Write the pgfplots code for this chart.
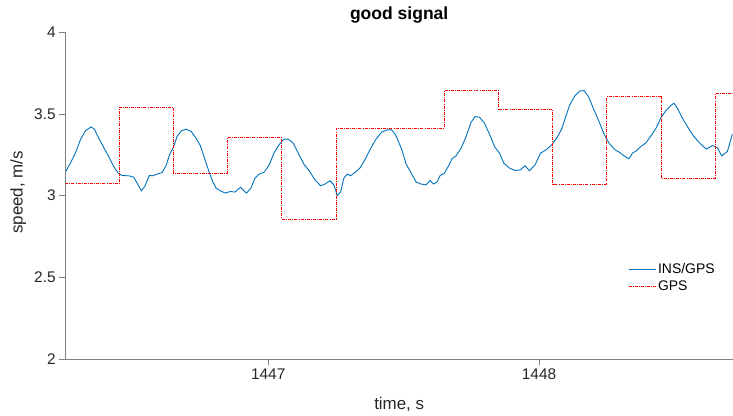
\documentclass[border=0pt]{standalone}
\usepackage{fontspec}
\setmainfont{Liberation Sans}
\usepackage{pgfplots}
\pgfplotsset{compat=1.18}
\definecolor{mblue}{rgb}{0,0.447,0.741}
\definecolor{axgray}{rgb}{0.5,0.5,0.5}
\definecolor{txtgray}{rgb}{0.15,0.15,0.15}
\begin{document}
\begin{tikzpicture}
\begin{axis}[
  name=ax,
  scale only axis,
  width=667.3bp, height=326.7bp,
  xmin=1446.252, xmax=1448.715,
  ymin=2, ymax=4,
  axis x line*=bottom, axis y line*=left,
  axis line style={axgray, line width=0.6bp},
  every tick/.style={axgray, line width=0.6bp},
  tick align=outside,
  major tick length=6.5bp,
  xtick={1447,1448},
  ytick={2,2.5,3,3.5,4},
  /pgf/number format/assume math mode=true,
  xticklabel style={/pgf/number format/1000 sep={}, font=\fontsize{15.5}{18}\selectfont, text=txtgray},
  yticklabel style={/pgf/number format/fixed, font=\fontsize{15.5}{18}\selectfont, text=txtgray},
  title={good signal},
  title style={at={(0.5,1)}, anchor=base, yshift=6.6bp, font=\bfseries\fontsize{17.6}{20}\selectfont, text=black},
  xlabel={time, s},
  xlabel style={at={(axis description cs:0.5,0)}, anchor=base, yshift=-51bp, font=\fontsize{17}{20}\selectfont, text=txtgray},
  ylabel={speed, m/s},
  ylabel style={at={(axis description cs:-0.0644,0.51)}, anchor=base, font=\fontsize{17}{20}\selectfont, text=txtgray},
  legend style={draw=none, fill=none, at={(axis description cs:0.843,0.248)}, anchor=west,
    font=\fontsize{14}{16}\selectfont, text=black, row sep=1.5bp, inner sep=0bp},
  legend cell align=left,
  legend image code/.code={\draw[#1] (0bp,0bp) -- (27bp,0bp);},
]
\addplot[mblue, line width=0.9bp] coordinates {
(1446.2509,3.1437) (1446.2694,3.1988) (1446.2904,3.2697) (1446.3063,3.3413) (1446.3247,3.3963)
(1446.3458,3.4208) (1446.3579,3.4067) (1446.3742,3.3517) (1446.3926,3.2942) (1446.4111,3.2391)
(1446.4295,3.1780) (1446.4454,3.1376) (1446.4601,3.1229) (1446.4849,3.1211) (1446.5033,3.1131)
(1446.5155,3.0765) (1446.5314,3.0294) (1446.5439,3.0557) (1446.5609,3.1229) (1446.5734,3.1211)
(1446.5893,3.1315) (1446.6077,3.1413) (1446.6225,3.1823) (1446.6347,3.2453) (1446.6509,3.3003)
(1446.6631,3.3615) (1446.6790,3.3963) (1446.6974,3.4067) (1446.7159,3.3920) (1446.7332,3.3517)
(1446.7491,3.3064) (1446.7653,3.2251) (1446.7801,3.1517) (1446.7948,3.0862) (1446.8070,3.0459)
(1446.8229,3.0294) (1446.8413,3.0153) (1446.8598,3.0251) (1446.8771,3.0214) (1446.8974,3.0508)
(1446.9196,3.0153) (1446.9362,3.0459) (1446.9509,3.1070) (1446.9668,3.1315) (1446.9852,3.1437)
(1447.0037,3.1884) (1447.0210,3.2599) (1447.0395,3.3107) (1447.0579,3.3456) (1447.0738,3.3456)
(1447.0923,3.3211) (1447.1107,3.2599) (1447.1317,3.1927) (1447.1513,3.1517) (1447.1723,3.0966)
(1447.1934,3.0599) (1447.2092,3.0703) (1447.2277,3.0905) (1447.2424,3.0661) (1447.2546,3.0006)
(1447.2672,3.0214) (1447.2793,3.1070) (1447.2915,3.1315) (1447.3041,3.1211) (1447.3199,3.1413)
(1447.3384,3.1682) (1447.3568,3.2190) (1447.3753,3.2801) (1447.3963,3.3413) (1447.4185,3.3884)
(1447.4391,3.4024) (1447.4554,3.4024) (1447.4701,3.3719) (1447.4860,3.3107) (1447.4934,3.2801)
(1447.5092,3.1927) (1447.5277,3.1376) (1447.5461,3.0826) (1447.5646,3.0703) (1447.5830,3.0661)
(1447.5978,3.0924) (1447.6103,3.0703) (1447.6225,3.0826) (1447.6347,3.1229) (1447.6509,3.1376)
(1447.6694,3.1927) (1447.6779,3.2251) (1447.6937,3.2434) (1447.7122,3.2905) (1447.7306,3.3615)
(1447.7491,3.4495) (1447.7638,3.4838) (1447.7801,3.4801) (1447.7985,3.4434) (1447.8192,3.3676)
(1447.8354,3.3003) (1447.8539,3.2599) (1447.8697,3.1988) (1447.8908,3.1682) (1447.9114,3.1535)
(1447.9314,3.1578) (1447.9483,3.1823) (1447.9646,3.1517) (1447.9852,3.1884) (1448.0052,3.2599)
(1448.0258,3.2801) (1448.0469,3.3107) (1448.0664,3.3554) (1448.0838,3.4086) (1448.0985,3.4838)
(1448.1133,3.5554) (1448.1328,3.6122) (1448.1502,3.6410) (1448.1661,3.6428) (1448.1823,3.6061)
(1448.2029,3.5248) (1448.2214,3.4532) (1448.2399,3.3761) (1448.2583,3.3211) (1448.2804,3.2801)
(1448.2978,3.2636) (1448.3137,3.2434) (1448.3321,3.2251) (1448.3446,3.2599) (1448.3594,3.2740)
(1448.3753,3.3003) (1448.3937,3.3211) (1448.4159,3.3719) (1448.4332,3.4165) (1448.4491,3.4740)
(1448.4675,3.5187) (1448.4860,3.5511) (1448.4982,3.5657) (1448.5107,3.5352) (1448.5292,3.4740)
(1448.5513,3.4128) (1448.5720,3.3615) (1448.5967,3.3150) (1448.6177,3.2844) (1448.6398,3.3064)
(1448.6583,3.2942) (1448.6742,3.2434) (1448.6952,3.2697) (1448.7137,3.3761)
};
\addlegendentry{INS/GPS}
\addplot[red, line width=0.7bp, const plot, dash pattern=on 3bp off 1.2bp on 0.8bp off 1.2bp] coordinates {
(1446.25,3.072) (1446.45,3.541) (1446.65,3.138) (1446.85,3.358) (1447.05,2.856)
(1447.25,3.413) (1447.45,3.413) (1447.65,3.645) (1447.85,3.525) (1448.05,3.066)
(1448.25,3.606) (1448.45,3.107) (1448.65,3.623) (1448.715,3.623)
};
\addlegendentry{GPS}
\end{axis}
\path[use as bounding box] (ax.south west) ++(-65.7bp,-54bp) rectangle ++(733bp,413bp);
\end{tikzpicture}
\end{document}
